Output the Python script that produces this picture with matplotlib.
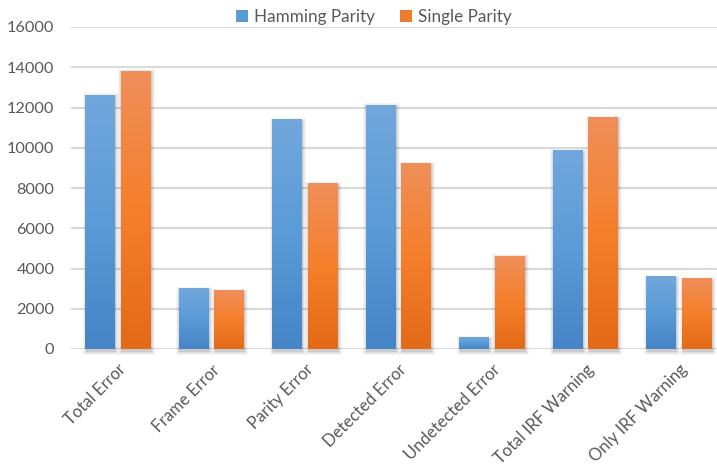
import numpy as np
import matplotlib
matplotlib.use("Agg")
import matplotlib.pyplot as plt
from matplotlib.colors import LinearSegmentedColormap
from matplotlib.patches import Rectangle, Patch

plt.rcParams['font.family'] = ['Lato', 'DejaVu Sans']

categories = ["Total Error", "Frame Error", "Parity Error", "Detected Error",
              "Undetected Error", "Total IRF Warning", "Only IRF Warning"]
hamming = [12600, 3000, 11400, 12100, 550, 9850, 3600]
single = [13800, 2900, 8200, 9200, 4600, 11500, 3500]
yticks = [0, 2000, 4000, 6000, 8000, 10000, 12000, 14000, 16000]

blue_grad = LinearSegmentedColormap.from_list("b", ["#4584C6", "#5B9BD8", "#71A7DC"])
orange_grad = LinearSegmentedColormap.from_list("o", ["#E36A17", "#F57F2A", "#F08F5A"])

fig = plt.figure(figsize=(7.17, 4.67), dpi=100)
ax = fig.add_axes([71 / 717, 118 / 467, 655 / 717, 322 / 467])

ax.set_xlim(-0.5, len(categories) - 0.5)
ax.set_ylim(0, 16000)
for s in ax.spines.values():
    s.set_visible(False)
ax.set_yticks(yticks)
ax.set_yticklabels([str(v) for v in yticks])
ax.yaxis.grid(True, color="#D9D9D9", linewidth=1.5, zorder=0)
ax.set_axisbelow(True)
ax.tick_params(axis='both', length=0, colors="#595959")
ax.tick_params(axis='y', pad=12, labelsize=11.7)
ax.tick_params(axis='x', labelsize=12)

x = np.arange(len(categories))
width = 0.32
offset = 0.19
px_x = 1 / 93.5
px_y = 16000 / 322

grad = np.linspace(0, 1, 256).reshape(-1, 1)


def draw_bar(xc, h, cmap):
    x0 = xc - width / 2
    # soft drop shadow
    for k, a in [(4, 0.035), (3, 0.045), (2, 0.06), (1, 0.08)]:
        ax.add_patch(Rectangle((x0 - k * px_x + 1.5 * px_x, -k * px_y - 2 * px_y),
                               width + 2 * k * px_x - 1.5 * px_x, h + 2 * k * px_y,
                               facecolor="black", alpha=a, edgecolor="none",
                               zorder=2, clip_on=False))
    ax.imshow(grad, cmap=cmap, origin="lower", aspect="auto",
              extent=(x0, x0 + width, 0, h), zorder=3, interpolation="bicubic")


for i in range(len(categories)):
    draw_bar(x[i] - offset, hamming[i], blue_grad)
    draw_bar(x[i] + offset, single[i], orange_grad)

ax.set_xlim(-0.5, len(categories) - 0.5)
ax.set_ylim(0, 16000)
ax.axhline(0, color="#D9D9D9", linewidth=2, zorder=1)

ax.set_xticks(x)
ax.set_xticklabels(categories, rotation=45, ha="right", rotation_mode="anchor")
ax.tick_params(axis='x', pad=9)

handles = [Patch(facecolor="#5B9BD5", edgecolor="none", label="Hamming Parity"),
           Patch(facecolor="#F07D2E", edgecolor="none", label="Single Parity")]
leg = fig.legend(handles=handles, loc="center", bbox_to_anchor=(374 / 717, 1 - 17 / 467),
                 ncol=2, frameon=False, fontsize=12.3, handlelength=0.7,
                 handleheight=0.7, handletextpad=0.35, columnspacing=1.5)
for t in leg.get_texts():
    t.set_color("#595959")

fig.savefig("out.png", dpi=100)
